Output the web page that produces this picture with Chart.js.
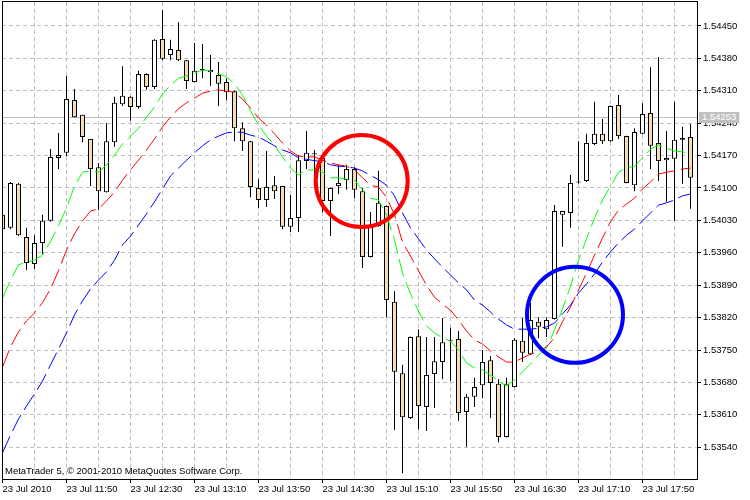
<!DOCTYPE html>
<html>
<head>
<meta charset="utf-8">
<title>EURUSD M5 - moving averages</title>
<script src="https://cdn.jsdelivr.net/npm/chart.js@4.4.0/dist/chart.umd.min.js"></script>
<style>
  html, body { margin: 0; padding: 0; background: #ffffff; }
  #wrap { width: 750px; height: 500px; }
</style>
</head>
<body>
<div id="wrap"><canvas id="chart" width="750" height="500"></canvas></div>
<script>
// bars are 5 minutes apart, bar 0 = 23 Jul 11:10
const opens = [
  1.54042, 1.54014, 1.54109, 1.53994, 1.53936, 1.53981, 1.54029, 1.54165, 1.54176, 1.54290,
  1.54258, 1.54206, 1.54145, 1.54091, 1.54199, 1.54281, 1.54297, 1.54275, 1.54346, 1.54318,
  1.54422, 1.54387, 1.54398, 1.54376, 1.54329, 1.54355, 1.54350, 1.54344, 1.54329, 1.54309,
  1.54229, 1.54201, 1.54100, 1.54074, 1.54106, 1.54104, 1.54016, 1.54035, 1.54158, 1.54173,
  1.54165, 1.54072, 1.54104, 1.54117, 1.54141, 1.54093, 1.53951, 1.54018, 1.54061, 1.53854,
  1.53700, 1.53603, 1.53780, 1.53627, 1.53698, 1.53724, 1.53769, 1.53774, 1.53616, 1.53649,
  1.53674, 1.53728, 1.53677, 1.53562, 1.53670, 1.53770, 1.53741, 1.53811, 1.53795, 1.53817,
  1.54042, 1.54046, 1.54112, 1.54115, 1.54195, 1.54217, 1.54201, 1.54279, 1.54212, 1.54106,
  1.54217, 1.54262, 1.54197, 1.54160, 1.54163, 1.54204, 1.54210
];
const highs = [
  1.54046, 1.54113, 1.54111, 1.54014, 1.53998, 1.54042, 1.54184, 1.54219, 1.54342, 1.54314,
  1.54258, 1.54206, 1.54154, 1.54240, 1.54297, 1.54363, 1.54298, 1.54353, 1.54348, 1.54421,
  1.54484, 1.54420, 1.54458, 1.54377, 1.54413, 1.54411, 1.54387, 1.54372, 1.54337, 1.54310,
  1.54242, 1.54202, 1.54119, 1.54180, 1.54126, 1.54105, 1.54085, 1.54171, 1.54223, 1.54182,
  1.54171, 1.54101, 1.54150, 1.54150, 1.54145, 1.54100, 1.54048, 1.54137, 1.54062, 1.53877,
  1.53718, 1.53779, 1.53795, 1.53778, 1.53778, 1.53819, 1.53798, 1.53791, 1.53655, 1.53690,
  1.53750, 1.53737, 1.53687, 1.53690, 1.53776, 1.53819, 1.53852, 1.53821, 1.53821, 1.54063,
  1.54051, 1.54128, 1.54201, 1.54217, 1.54286, 1.54249, 1.54278, 1.54301, 1.54213, 1.54229,
  1.54283, 1.54361, 1.54383, 1.54223, 1.54286, 1.54232, 1.54238
];
const lows = [
  1.54007, 1.54011, 1.53996, 1.53923, 1.53925, 1.53957, 1.54027, 1.54141, 1.54169, 1.54252,
  1.54199, 1.54104, 1.54052, 1.54090, 1.54189, 1.54277, 1.54245, 1.54271, 1.54312, 1.54314,
  1.54376, 1.54376, 1.54374, 1.54314, 1.54328, 1.54337, 1.54320, 1.54277, 1.54290, 1.54201,
  1.54180, 1.54080, 1.54057, 1.54059, 1.54076, 1.54011, 1.54005, 1.54005, 1.54141, 1.54106,
  1.54048, 1.53996, 1.54087, 1.54096, 1.54078, 1.53927, 1.53950, 1.54016, 1.53821, 1.53577,
  1.53484, 1.53601, 1.53579, 1.53575, 1.53625, 1.53687, 1.53683, 1.53597, 1.53541, 1.53627,
  1.53646, 1.53603, 1.53551, 1.53561, 1.53669, 1.53724, 1.53740, 1.53776, 1.53778, 1.53816,
  1.53973, 1.54014, 1.54109, 1.54113, 1.54193, 1.54195, 1.54200, 1.54206, 1.54110, 1.54093,
  1.54216, 1.54141, 1.54115, 1.54070, 1.54029, 1.54109, 1.54055
];
const closes = [
  1.54011, 1.54111, 1.53998, 1.53938, 1.53981, 1.54029, 1.54167, 1.54171, 1.54292, 1.54253,
  1.54210, 1.54141, 1.54093, 1.54201, 1.54284, 1.54299, 1.54275, 1.54346, 1.54318, 1.54420,
  1.54379, 1.54400, 1.54376, 1.54331, 1.54353, 1.54357, 1.54355, 1.54325, 1.54307, 1.54229,
  1.54201, 1.54102, 1.54074, 1.54102, 1.54093, 1.54016, 1.54035, 1.54160, 1.54176, 1.54175,
  1.54072, 1.54100, 1.54111, 1.54141, 1.54096, 1.53951, 1.54018, 1.54068, 1.53858, 1.53703,
  1.53605, 1.53778, 1.53629, 1.53696, 1.53726, 1.53767, 1.53771, 1.53614, 1.53649, 1.53670,
  1.53724, 1.53679, 1.53562, 1.53677, 1.53772, 1.53744, 1.53815, 1.53800, 1.53815, 1.54050,
  1.54050, 1.54111, 1.54114, 1.54197, 1.54217, 1.54201, 1.54277, 1.54212, 1.54111, 1.54221,
  1.54260, 1.54191, 1.54158, 1.54165, 1.54204, 1.54208, 1.54122
];

const maFast = [
  1.53862, 1.53901, 1.53934, 1.53940, 1.53944, 1.53955, 1.53985, 1.54018, 1.54057, 1.54104,
  1.54134, 1.54137, 1.54134, 1.54150, 1.54171, 1.54195, 1.54212, 1.54229, 1.54253, 1.54275,
  1.54303, 1.54322, 1.54337, 1.54342, 1.54348, 1.54355, 1.54353, 1.54347, 1.54340, 1.54325,
  1.54301, 1.54266, 1.54236, 1.54212, 1.54193, 1.54167, 1.54143, 1.54128, 1.54139, 1.54139,
  1.54134, 1.54122, 1.54122, 1.54119, 1.54117, 1.54096, 1.54078, 1.54074, 1.54042, 1.53988,
  1.53916, 1.53871, 1.53834, 1.53802, 1.53787, 1.53776, 1.53769, 1.53750, 1.53722, 1.53711,
  1.53707, 1.53696, 1.53683, 1.53672, 1.53685, 1.53703, 1.53720, 1.53739, 1.53754, 1.53793,
  1.53839, 1.53888, 1.53944, 1.53990, 1.54035, 1.54074, 1.54104, 1.54134, 1.54143, 1.54147,
  1.54165, 1.54184, 1.54193, 1.54186, 1.54180, 1.54178, 1.54173
];
const maMid = [
  1.53713, 1.53757, 1.53789, 1.53813, 1.53830, 1.53852, 1.53882, 1.53921, 1.53966, 1.54001,
  1.54029, 1.54050, 1.54055, 1.54072, 1.54091, 1.54117, 1.54139, 1.54160, 1.54182, 1.54206,
  1.54232, 1.54253, 1.54271, 1.54284, 1.54294, 1.54305, 1.54309, 1.54312, 1.54309, 1.54307,
  1.54292, 1.54273, 1.54251, 1.54236, 1.54217, 1.54197, 1.54180, 1.54169, 1.54167, 1.54167,
  1.54160, 1.54154, 1.54150, 1.54147, 1.54139, 1.54122, 1.54106, 1.54102, 1.54080, 1.54042,
  1.53983, 1.53953, 1.53921, 1.53890, 1.53864, 1.53849, 1.53836, 1.53815, 1.53791, 1.53772,
  1.53763, 1.53748, 1.53735, 1.53724, 1.53724, 1.53733, 1.53741, 1.53746, 1.53757, 1.53776,
  1.53811, 1.53843, 1.53880, 1.53916, 1.53955, 1.53992, 1.54027, 1.54052, 1.54065, 1.54078,
  1.54098, 1.54113, 1.54130, 1.54134, 1.54137, 1.54141, 1.54143
];
const maSlow = [
  1.53528, 1.53566, 1.53601, 1.53629, 1.53655, 1.53683, 1.53718, 1.53752, 1.53787, 1.53826,
  1.53856, 1.53882, 1.53901, 1.53919, 1.53944, 1.53977, 1.53996, 1.54020, 1.54044, 1.54070,
  1.54098, 1.54126, 1.54143, 1.54160, 1.54176, 1.54191, 1.54204, 1.54212, 1.54219, 1.54221,
  1.54220, 1.54214, 1.54210, 1.54201, 1.54191, 1.54182, 1.54176, 1.54165, 1.54162, 1.54159,
  1.54157, 1.54150, 1.54147, 1.54146, 1.54143, 1.54137, 1.54127, 1.54118, 1.54106, 1.54083,
  1.54046, 1.54014, 1.53990, 1.53966, 1.53947, 1.53929, 1.53912, 1.53895, 1.53880, 1.53858,
  1.53847, 1.53832, 1.53817, 1.53804, 1.53795, 1.53795, 1.53795, 1.53797, 1.53800, 1.53808,
  1.53828, 1.53847, 1.53873, 1.53893, 1.53914, 1.53940, 1.53962, 1.53981, 1.53998, 1.54011,
  1.54029, 1.54046, 1.54063, 1.54068, 1.54074, 1.54083, 1.54087
];

const priceTicks = [1.53540, 1.53610, 1.53680, 1.53750, 1.53820, 1.53890, 1.53960,
                    1.54030, 1.54100, 1.54170, 1.54240, 1.54310, 1.54380, 1.54450];
const gridBars = [0, 4, 8, 12, 16, 20, 24, 28, 32, 36, 40, 44, 48, 52, 56, 60, 64, 68, 72, 76, 80, 84];
const labelBars = [0, 8, 16, 24, 32, 40, 48, 56, 64, 72, 80];
const timeLabels = ['23 Jul 2010', '23 Jul 11:50', '23 Jul 12:30', '23 Jul 13:10', '23 Jul 13:50',
                    '23 Jul 14:30', '23 Jul 15:10', '23 Jul 15:50', '23 Jul 16:30', '23 Jul 17:10', '23 Jul 17:50'];

const bidPrice = 1.54253;
const yMin = 1.534714;
const yMax = 1.545017;
// circled areas: [bar, price]
const redMark = [44.9, 1.54115];
const blueMark = [71.56, 1.53826];
const copyright = 'MetaTrader 5, \u00a9 2001-2010 MetaQuotes Software Corp.';

const fontFamily = "Tahoma, 'Liberation Sans', Arial, sans-serif";
const labelFont = { family: fontFamily, size: 9.5 };

const bodies = opens.map((o, i) => ({ x: i, y: [o, closes[i]] }));
const wicks = lows.map((l, i) => ({ x: i, y: [l, highs[i]] }));
const bodyColors = opens.map((o, i) => closes[i] >= o ? '#ffffff' : '#f5deb3');
const toPoints = arr => arr.map((v, i) => ({ x: i, y: v }));

const terminalDecor = {
  id: 'terminalDecor',
  beforeDatasetsDraw(chart) {
    const { ctx, chartArea: a, scales: { y } } = chart;
    const py = Math.round(y.getPixelForValue(bidPrice)) + 0.5;
    ctx.save();
    ctx.strokeStyle = '#c0c0c0';
    ctx.lineWidth = 1;
    ctx.beginPath();
    ctx.moveTo(a.left, py);
    ctx.lineTo(a.right, py);
    ctx.stroke();
    ctx.restore();
  },
  afterDraw(chart) {
    const { ctx, chartArea: a, scales: { y } } = chart;
    ctx.save();
    ctx.strokeStyle = '#000000';
    ctx.lineWidth = 1;
    ctx.strokeRect(a.left + 0.5, a.top - 0.5, a.right - a.left, a.bottom - a.top + 1);

    ctx.font = `${labelFont.size}px ${fontFamily}`;
    ctx.fillStyle = '#000000';
    ctx.textBaseline = 'middle';
    ctx.textAlign = 'left';
    ctx.fillText(copyright, a.left + 3, a.bottom - 7.5);

    const py = Math.round(y.getPixelForValue(bidPrice));
    const txt = bidPrice.toFixed(5);
    const w = ctx.measureText(txt).width;
    ctx.fillStyle = '#c0c0c0';
    ctx.fillRect(a.right + 2, py - 5, w + 6, 11);
    ctx.fillStyle = '#ffffff';
    ctx.fillText(txt, a.right + 5, py + 0.5);
    ctx.restore();
  }
};

new Chart(document.getElementById('chart'), {
  type: 'bar',
  data: {
    datasets: [
      {
        type: 'bubble',
        data: [{ x: redMark[0], y: redMark[1], r: 46 }],
        borderColor: '#ff0000',
        backgroundColor: 'rgba(0,0,0,0)',
        borderWidth: 4,
        order: 0
      },
      {
        type: 'bubble',
        data: [{ x: blueMark[0], y: blueMark[1], r: 48 }],
        borderColor: '#0000ff',
        backgroundColor: 'rgba(0,0,0,0)',
        borderWidth: 4,
        order: 0
      },
      {
        type: 'line',
        data: toPoints(maSlow),
        borderColor: '#0000ff',
        borderWidth: 1,
        borderDash: [18, 6],
        pointRadius: 0,
        tension: 0,
        order: 1
      },
      {
        type: 'line',
        data: toPoints(maMid),
        borderColor: '#ff0000',
        borderWidth: 1,
        borderDash: [18, 6],
        pointRadius: 0,
        tension: 0,
        order: 1
      },
      {
        type: 'line',
        data: toPoints(maFast),
        borderColor: '#00ff00',
        borderWidth: 1,
        borderDash: [18, 6],
        pointRadius: 0,
        tension: 0,
        order: 1
      },
      {
        type: 'bar',
        data: bodies,
        backgroundColor: bodyColors,
        borderColor: '#000000',
        borderWidth: 1,
        borderSkipped: false,
        barThickness: 5,
        minBarLength: 1,
        inflateAmount: 0,
        grouped: false,
        order: 2
      },
      {
        type: 'bar',
        data: wicks,
        backgroundColor: '#000000',
        borderWidth: 0,
        barThickness: 1,
        inflateAmount: 0,
        grouped: false,
        order: 3
      }
    ]
  },
  options: {
    responsive: false,
    animation: false,
    events: [],
    layout: { autoPadding: false, padding: { left: 2, top: 2, right: 0, bottom: 0 } },
    plugins: {
      legend: { display: false },
      tooltip: { enabled: false }
    },
    scales: {
      x: {
        type: 'linear',
        position: 'bottom',
        min: -0.0625,
        max: 86.8125,
        offset: false,
        afterBuildTicks: s => { s.ticks = gridBars.map(v => ({ value: v })); },
        afterFit: s => { s.height = 21; s.paddingLeft = 0; s.paddingRight = 0; },
        grid: {
          offset: false,
          color: '#c0c0c0',
          tickLength: 4,
          tickColor: c => (c.tick && labelBars.includes(c.tick.value)) ? '#000000' : 'rgba(0,0,0,0)'
        },
        border: { display: true, color: '#000000', dash: [4, 3] },
        ticks: {
          autoSkip: false,
          maxRotation: 0,
          minRotation: 0,
          align: 'start',
          padding: 1,
          color: '#000000',
          font: labelFont,
          callback: v => {
            const i = labelBars.indexOf(v);
            return i >= 0 ? timeLabels[i] : '';
          }
        }
      },
      y: {
        type: 'linear',
        position: 'right',
        min: yMin,
        max: yMax,
        beginAtZero: false,
        afterBuildTicks: s => { s.ticks = priceTicks.map(v => ({ value: v })); },
        afterFit: s => { s.width = 53; s.paddingTop = 0; s.paddingBottom = 0; },
        grid: { color: '#c0c0c0', tickLength: 4, tickColor: '#000000' },
        border: { display: true, color: '#000000', dash: [4, 3] },
        ticks: {
          padding: 2,
          color: '#000000',
          font: labelFont,
          callback: v => v.toFixed(5)
        }
      }
    }
  },
  plugins: [terminalDecor]
});
</script>
</body>
</html>
